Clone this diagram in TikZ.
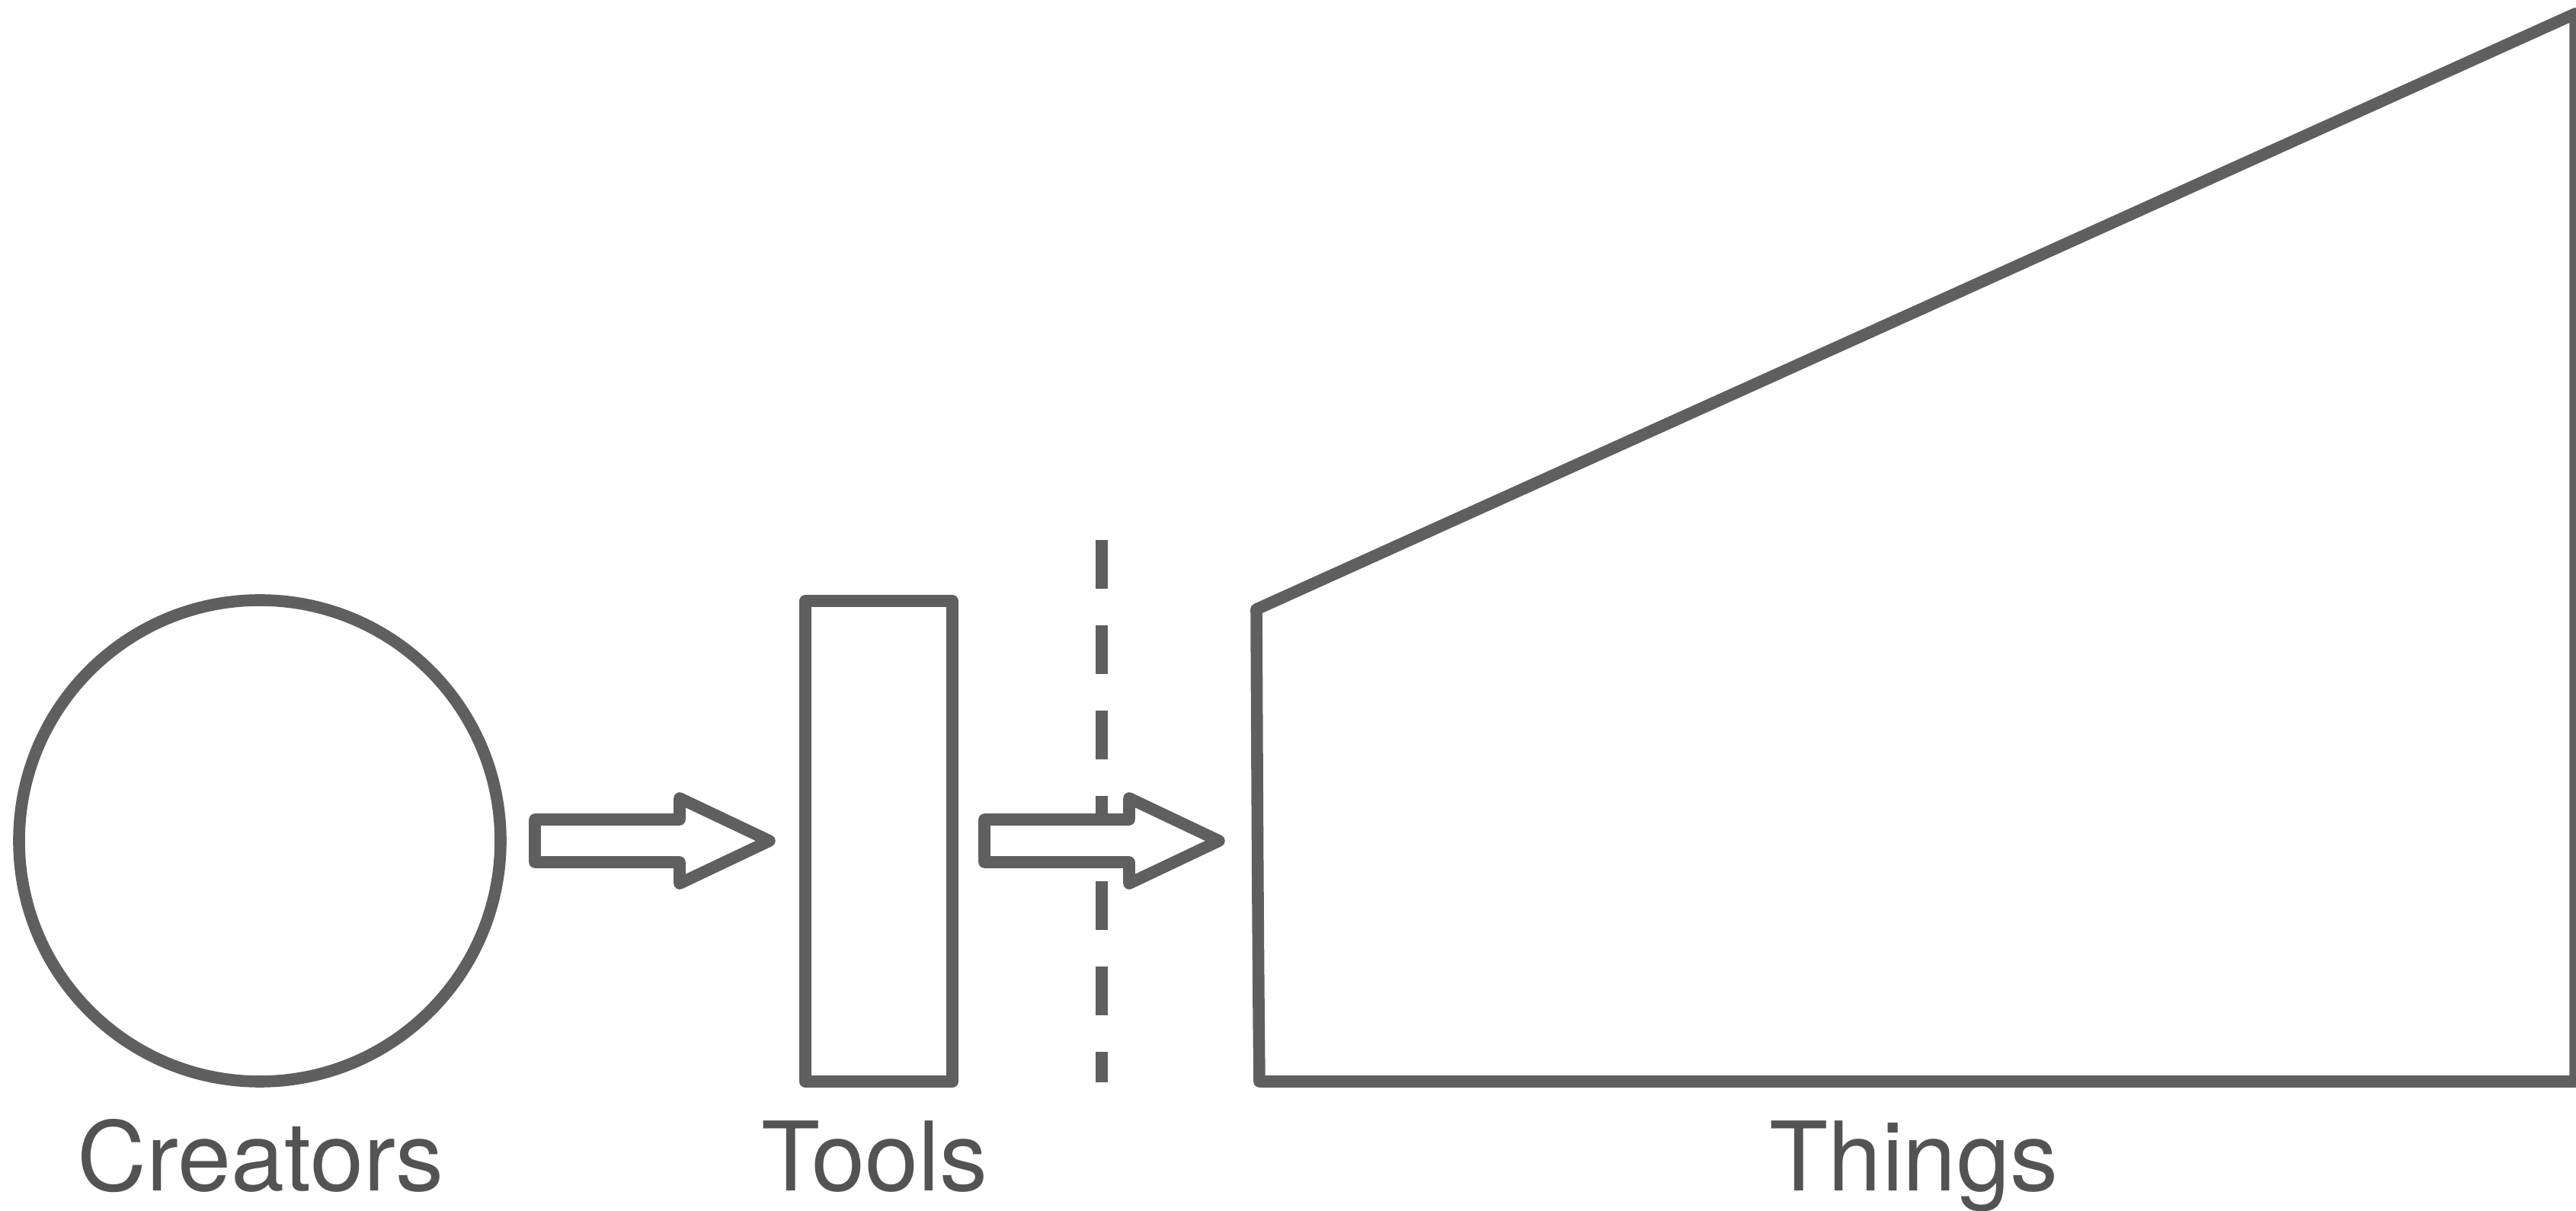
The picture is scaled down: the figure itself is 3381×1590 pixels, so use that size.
\documentclass[tikz,border=0pt]{standalone}
\usepackage{fontspec}
\setmainfont{TeX Gyre Heros}
\definecolor{linegray}{HTML}{5F5F5F}
\definecolor{textgray}{HTML}{535353}
\begin{document}
\begin{tikzpicture}[x=0.25pt,y=-0.25pt,
  shapeline/.style={draw=linegray, line width=3.9pt, line join=round},
  blockarrow/.style={shapeline, fill=white},
  label/.style={text=textgray, font=\fontsize{31.5}{38}\selectfont, anchor=base, inner sep=0pt},
  divider/.style={draw=linegray, line width=3.9pt, dash pattern=on 16pt off 12pt}]
\useasboundingbox (0,0) rectangle (3381,1590);
% Creators
\node[shapeline, circle, inner sep=0pt, minimum size=158pt] (creators) at (341,1104) {};
% Tools
\node[shapeline, rectangle, inner sep=0pt, minimum width=48.25pt, minimum height=157.75pt] (tools) at (1153.5,1104.5) {};
% divider
\coordinate (dtop) at (1446,709);
\coordinate (dbot) at (1446,1421);
\draw[divider] (dtop) -- (dbot);
% Things
\coordinate (thtl) at (1649,800);
\coordinate (thtr) at (3380,18);
\coordinate (thbr) at (3380,1420);
\coordinate (thbl) at (1653,1420);
\draw[shapeline] (thtl) -- (thtr) -- (thbr) -- (thbl) .. controls (1651,1250) and (1650,1000) .. (thtl) -- cycle;
% arrows
\coordinate (a1) at (702,1104);
\coordinate (a2) at (1292,1104);
\foreach \a in {a1,a2}{
  \draw[blockarrow] ([shift={(0,-28)}]\a) -- ++(190,0) -- ++(0,-28) -- ++(118,56) -- ++(-118,56) -- ++(0,-28) -- ++(-190,0) -- cycle;
}
% labels
\node[label] (lcreators) at (342,1563) {Creators};
\node[label] (ltools) at (1148,1563) {Tools};
\node[label] (lthings) at (2512,1563) {Things};
\end{tikzpicture}
\end{document}
